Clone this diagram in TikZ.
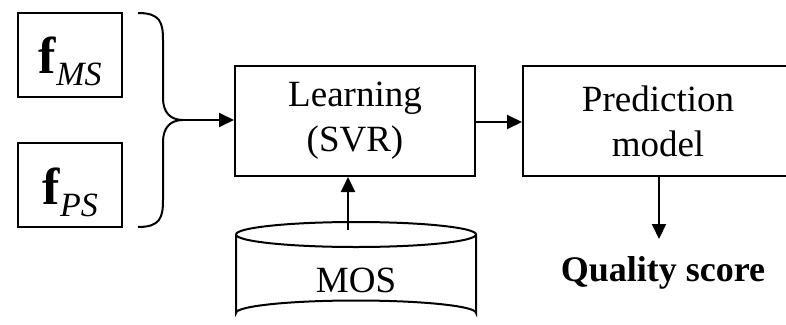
\documentclass[tikz,border=0pt]{standalone}
\usepackage{fontspec}
\setmainfont{Liberation Serif}
\usetikzlibrary{arrows.meta}
\tikzset{
  ln/.style={line width=2pt},
  box/.style={draw, ln, rectangle, inner sep=0pt, align=center},
  arr/.style={ln, -{Triangle[length=15pt,width=14pt]}},
  txt/.style={font=\fontsize{37}{45}\selectfont, align=center},
  featbox/.style={draw, ln, rectangle, minimum width=104pt, minimum height=84pt},
  feattxt/.style={inner sep=0pt},
}
\newcommand{\featsym}[1]{{\fontsize{52}{52}\selectfont\textbf{f}}\raisebox{-12pt}{\fontsize{34}{34}\selectfont\textit{#1}}}
\begin{document}
\begin{tikzpicture}[x=1pt,y=-1pt]
\useasboundingbox (0,0) rectangle (786,324);
% feature boxes
\node[featbox] (fms) at (70,55) {};
\node[feattxt] (fmst) at (70,61) {\featsym{MS}};
\node[featbox] (fps) at (70,185) {};
\node[feattxt] (fpst) at (70,192) {\featsym{PS}};
% brace
\coordinate (tip) at (183,120);
\draw[ln] (138,13) .. controls (160,13) and (163,22) .. (163,40) -- (163,98)
  .. controls (163,112) and (170,120) .. (tip)
  .. controls (170,120) and (163,128) .. (163,142) -- (163,200)
  .. controls (163,218) and (160,227) .. (138,227);
% learning box
\node[box, txt, minimum width=240pt, minimum height=110pt] (learn) at (355,121) {Learning\\(SVR)};
% prediction box
\node[box, txt, minimum width=270pt, minimum height=110pt] (pred) at (658,121) {Prediction\\model};
% cylinder
\draw[ln] (236,234.5) -- (236,313) arc[start angle=180, end angle=360, x radius=120, y radius=12.5]
  -- (476,234.5);
\draw[ln] (356,234.5) ellipse[x radius=120, y radius=12.5];
\node[txt] (mos) at (356,280) {MOS};
\coordinate (mostop) at (348,230);
% quality score
\node[font=\fontsize{36}{36}\selectfont\bfseries] (qs) at (663,273) {Quality score};
\coordinate (qtop) at (659,239);
% connectors
\draw[arr] (tip) -- (tip -| learn.west);
\draw[arr] (learn.east |- 0,122) -- (pred.west |- 0,122);
\draw[arr] (mostop) -- (mostop |- learn.south);
\draw[arr] (pred.south -| qtop) -- (qtop);
\end{tikzpicture}
\end{document}
